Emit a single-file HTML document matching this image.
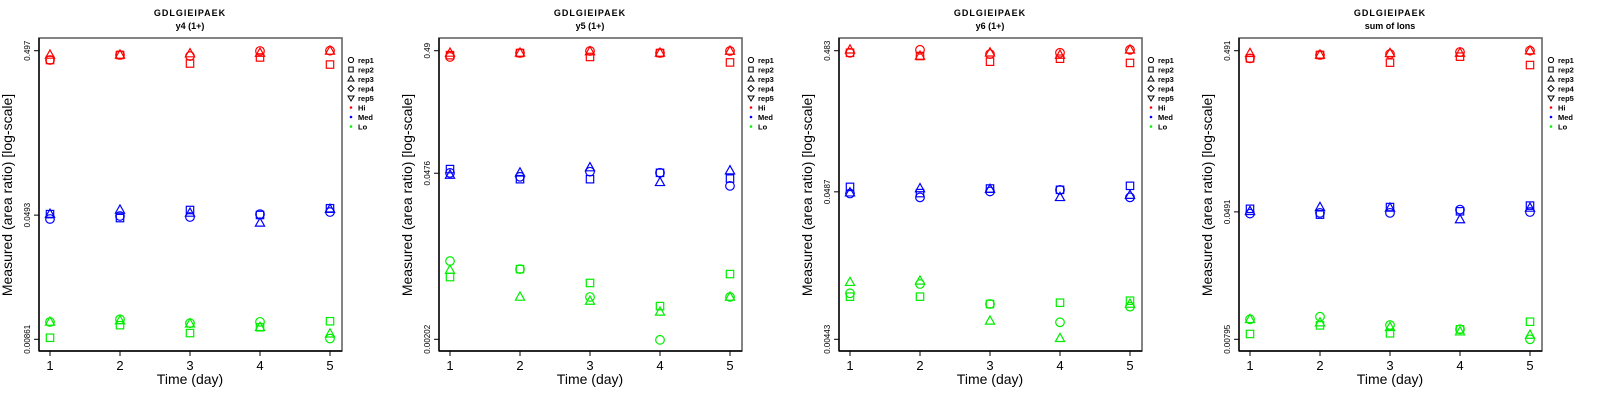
<!DOCTYPE html>
<html><head><meta charset="utf-8">
<style>
html,body{margin:0;padding:0;background:#fff;}
svg{display:block;font-family:"Liberation Sans",sans-serif;}
</style></head>
<body>
<svg id="chart" width="1600" height="400" viewBox="0 0 1600 400" xmlns="http://www.w3.org/2000/svg"></svg>
<script>
const days = [1,2,3,4,5];
const panelTitles = ["y4 (1+)","y5 (1+)","y6 (1+)","sum of Ions"];
const yTickLabels = [["0.00861","0.0493","0.497"],["0.00202","0.0476","0.49"],["0.00443","0.0487","0.483"],["0.00795","0.0491","0.491"]];
const yTickValues = [[0.00861,0.0493,0.497],[0.00202,0.0476,0.49],[0.00443,0.0487,0.483],[0.00795,0.0491,0.491]];
// values [panel][day]; reps: rep1 circle, rep2 square, rep3 triangle
const hiRep1 = [[0.436,0.468,0.461,0.495,0.497],[0.435,0.469,0.487,0.469,0.487],[0.467,0.49,0.457,0.467,0.49],[0.44,0.462,0.468,0.482,0.491]];
const hiRep2 = [[0.436,0.468,0.415,0.452,0.409],[0.45,0.469,0.435,0.469,0.392],[0.467,0.443,0.404,0.424,0.396],[0.44,0.462,0.414,0.451,0.40]];
const hiRep3 = [[0.468,0.468,0.477,0.481,0.495],[0.469,0.469,0.482,0.469,0.487],[0.49,0.443,0.467,0.45,0.49],[0.473,0.462,0.473,0.475,0.491]];
const medRep1 = [[0.0467,0.0487,0.048,0.050,0.0515],[0.0479,0.0445,0.049,0.048,0.0374],[0.0474,0.0445,0.049,0.0503,0.0445],[0.0479,0.0484,0.0484,0.0507,0.049]];
const medRep2 = [[0.050,0.0473,0.053,0.0494,0.0543],[0.0515,0.0425,0.0425,0.048,0.043],[0.0528,0.0477,0.0514,0.0503,0.0537],[0.0513,0.0472,0.0526,0.0495,0.0537]];
const medRep3 = [[0.050,0.053,0.0508,0.0442,0.0536],[0.046,0.048,0.053,0.040,0.050],[0.048,0.0514,0.0508,0.0445,0.0461],[0.0495,0.0524,0.0519,0.044,0.0519]];
const loRep1 = [[0.01098,0.0114,0.0108,0.011,0.0087],[0.00895,0.00768,0.00452,0.002,0.00452],[0.00936,0.01088,0.00786,0.00584,0.00753],[0.01058,0.01098,0.00975,0.00917,0.00795]];
const loRep2 = [[0.0088,0.0105,0.0094,0.0102,0.0111],[0.0066,0.00768,0.0059,0.0038,0.00699],[0.00886,0.00886,0.00786,0.00803,0.0083],[0.00858,0.0097,0.00866,0.00917,0.01022]];
const loRep3 = [[0.01098,0.0112,0.0107,0.0102,0.0093],[0.00754,0.00452,0.00418,0.0034,0.00452],[0.0112,0.01144,0.00597,0.0045,0.00786],[0.01058,0.01008,0.00944,0.00886,0.00845]];

const NS="http://www.w3.org/2000/svg";
const svg=document.getElementById('chart');
function mk(tag,attrs,parent){const e=document.createElementNS(NS,tag);for(const k in attrs)e.setAttribute(k,attrs[k]);(parent||svg).appendChild(e);return e;}
const PL=39,PR=342,PT=38,PB=351,YT=50.7,YB=339.3,X1=50,X5=330;
function xScale(ox,d){return ox+X1+(d-1)*(X5-X1)/4;}
function yScale(p,v){const lo=Math.log(yTickValues[p][0]),hi=Math.log(yTickValues[p][2]);return YB-(Math.log(v)-lo)/(hi-lo)*(YB-YT);}
function marker(g,shape,x,y,col){
  let e;
  if(shape==='circle'){e=mk('circle',{cx:x,cy:y,r:4.3,fill:'none',stroke:col,'stroke-width':1.2},g);}
  else if(shape==='square'){e=mk('rect',{x:x-3.7,y:y-3.7,width:7.4,height:7.4,fill:'none',stroke:col,'stroke-width':1.2},g);}
  else {e=mk('polygon',{points:`${x},${y-5} ${x-4.6},${y+3.2} ${x+4.6},${y+3.2}`,fill:'none',stroke:col,'stroke-width':1.2},g);}
  return e;
}
const groups=[["hi","#ff0000",[hiRep1,hiRep2,hiRep3]],["med","#0000ff",[medRep1,medRep2,medRep3]],["lo","#00ee00",[loRep1,loRep2,loRep3]]];
const shapes=['circle','square','triangle'];
for(let p=0;p<4;p++){
  const ox=p*400;
  const g=mk('g',{});
  
  
  const t1=mk('text',{x:ox+190,y:16,'text-anchor':'middle','font-size':9,'font-weight':'bold','letter-spacing':'1'},g);t1.textContent='GDLGIEIPAEK';
  
  const t2=mk('text',{x:ox+190,y:29,'text-anchor':'middle','font-size':9,'font-weight':'bold'},g);t2.textContent=panelTitles[p];
  
  const fr=mk('rect',{x:ox+PL,y:PT,width:PR-PL,height:PB-PT,fill:'none',stroke:'#666','stroke-width':1.6},g);
  
  mk('line',{x1:ox+PL,y1:PT,x2:ox+PL,y2:PB,stroke:'#000','stroke-width':1.4},g);
  mk('line',{x1:ox+PL,y1:PB,x2:ox+PR,y2:PB,stroke:'#000','stroke-width':1.4},g);
  days.forEach(d=>{const x=xScale(ox,d);mk('line',{x1:x,y1:PB,x2:x,y2:PB+5,stroke:'#000'},g);
    const tl=mk('text',{x:x,y:PB+19,'text-anchor':'middle','font-size':13},g);tl.textContent=d;
    });
  yTickValues[p].forEach((v,i)=>{const y=yScale(p,v);mk('line',{x1:ox+PL-5,y1:y,x2:ox+PL,y2:y,stroke:'#000'},g);
    const tl=mk('text',{x:ox+30,y:y,'text-anchor':'middle','font-size':8,transform:`rotate(-90 ${ox+30} ${y})`},g);tl.textContent=yTickLabels[p][i];
    });
  const xt=mk('text',{x:ox+190,y:384,'text-anchor':'middle','font-size':14},g);xt.textContent='Time (day)';
  
  const yt=mk('text',{x:ox+12,y:195,'text-anchor':'middle','font-size':14,transform:`rotate(-90 ${ox+12} 195)`},g);yt.textContent='Measured (area ratio) [log-scale]';
  
  groups.forEach(([gn,col,reps])=>{reps.forEach((rep,ri)=>{rep[p].forEach((v,di)=>{
    const m=marker(g,shapes[ri],xScale(ox,days[di]),yScale(p,v),col);
    
    
  });});});
  const lg=mk('g',{},g);
  
  const items=[['rep1','circle'],['rep2','square'],['rep3','triangle'],['rep4','diamond'],['rep5','tri-down'],['Hi','#ff0000'],['Med','#0000ff'],['Lo','#00ee00']];
  items.forEach((it,i)=>{const y=60+i*9.5,x=ox+351;
    if(i<5){
      if(it[1]==='circle')mk('circle',{cx:x,cy:y,r:2.6,fill:'none',stroke:'#000','stroke-width':1},lg);
      else if(it[1]==='square')mk('rect',{x:x-2.2,y:y-2.4,width:4.4,height:4.8,fill:'none',stroke:'#000','stroke-width':1},lg);
      else if(it[1]==='triangle')mk('polygon',{points:`${x},${y-3} ${x-3},${y+2} ${x+3},${y+2}`,fill:'none',stroke:'#000','stroke-width':1},lg);
      else if(it[1]==='diamond')mk('polygon',{points:`${x},${y-3} ${x+3},${y} ${x},${y+3} ${x-3},${y}`,fill:'none',stroke:'#000','stroke-width':1},lg);
      else mk('polygon',{points:`${x},${y+3} ${x-3},${y-2} ${x+3},${y-2}`,fill:'none',stroke:'#000','stroke-width':1},lg);
    } else mk('circle',{cx:x,cy:y,r:1.3,fill:it[1]},lg);
    const tx=mk('text',{x:x+7,y:y+3,'font-size':7.5,'font-weight':'bold'},lg);tx.textContent=it[0];
    
  });
}
</script>
</body></html>
